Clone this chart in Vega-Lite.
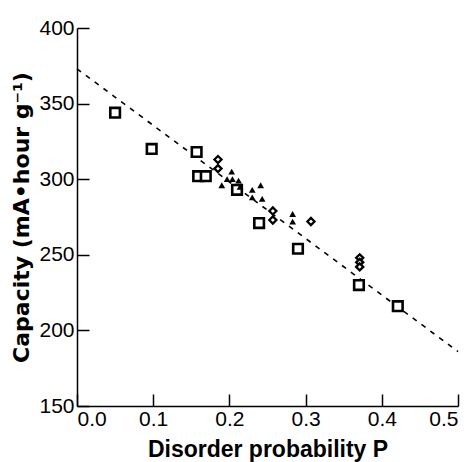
{
  "$schema": "https://vega.github.io/schema/vega-lite/v6.json",
  "width": 381,
  "height": 378,
  "autosize": {"type": "none"},
  "padding": {"left": 77, "top": 28, "right": 17, "bottom": 56},
  "background": "white",
  "config": {
    "view": {"stroke": null},
    "font": "Liberation Sans",
    "axis": {
      "domainColor": "black",
      "domainWidth": 1.5,
      "tickColor": "black",
      "tickWidth": 1.5,
      "grid": false,
      "labelColor": "black",
      "labelFont": "Liberation Sans",
      "labelFontSize": 21,
      "titleFont": "Liberation Sans",
      "titleFontSize": 23,
      "titleFontWeight": "bold",
      "titleColor": "black"
    }
  },
  "datasets": {
    "pts": [
      {"p": 0.05, "cap": 344, "s": "square"},
      {"p": 0.098, "cap": 320, "s": "square"},
      {"p": 0.157, "cap": 318, "s": "square"},
      {"p": 0.159, "cap": 302, "s": "square"},
      {"p": 0.169, "cap": 302, "s": "square"},
      {"p": 0.21, "cap": 293, "s": "square"},
      {"p": 0.239, "cap": 271, "s": "square"},
      {"p": 0.29, "cap": 254, "s": "square"},
      {"p": 0.37, "cap": 230, "s": "square"},
      {"p": 0.421, "cap": 216, "s": "square"},
      {"p": 0.185, "cap": 313, "s": "diamond"},
      {"p": 0.185, "cap": 307, "s": "diamond"},
      {"p": 0.257, "cap": 279, "s": "diamond"},
      {"p": 0.257, "cap": 273, "s": "diamond"},
      {"p": 0.307, "cap": 272, "s": "diamond"},
      {"p": 0.371, "cap": 248, "s": "diamond"},
      {"p": 0.371, "cap": 245, "s": "diamond"},
      {"p": 0.371, "cap": 242, "s": "diamond"},
      {"p": 0.19, "cap": 296, "s": "triangle"},
      {"p": 0.197, "cap": 300, "s": "triangle"},
      {"p": 0.203, "cap": 305, "s": "triangle"},
      {"p": 0.204, "cap": 300, "s": "triangle"},
      {"p": 0.212, "cap": 299, "s": "triangle"},
      {"p": 0.214, "cap": 295, "s": "triangle"},
      {"p": 0.23, "cap": 293, "s": "triangle"},
      {"p": 0.241, "cap": 296, "s": "triangle"},
      {"p": 0.23, "cap": 288, "s": "triangle"},
      {"p": 0.243, "cap": 287, "s": "triangle"},
      {"p": 0.283, "cap": 277, "s": "triangle"},
      {"p": 0.283, "cap": 272, "s": "triangle"}
    ],
    "fit": [
      {"p": 0.0, "cap": 373},
      {"p": 0.5, "cap": 186}
    ]
  },
  "layer": [
    {
      "data": {"name": "fit"},
      "mark": {"type": "line", "color": "black", "strokeWidth": 1.6, "strokeDash": [5, 6]},
      "encoding": {
        "x": {
          "field": "p", "type": "quantitative",
          "scale": {"domain": [0, 0.5], "nice": false},
          "axis": {
            "title": "Disorder probability P",
            "values": [0, 0.05, 0.1, 0.15, 0.2, 0.25, 0.3, 0.35, 0.4, 0.45, 0.5],
            "labelExpr": "round(datum.value*20) % 2 == 0 ? format(datum.value, '.1f') : ''",
            "tickSize": -12,
            "tickDash": {"condition": {"test": "round(datum.value*20) % 2 == 0", "value": []}, "value": [6, 20]},
            "labelPadding": 14,
            "titlePadding": 9
          }
        },
        "y": {
          "field": "cap", "type": "quantitative",
          "scale": {"domain": [150, 400], "nice": false, "zero": false},
          "axis": {
            "title": "Capacity (mA•hour g⁻¹)",
            "titleFont": "DejaVu Sans",
            "titleFontSize": 22,
            "values": [150, 175, 200, 225, 250, 275, 300, 325, 350, 375, 400],
            "labelExpr": "datum.value % 50 == 0 ? datum.label : ''",
            "tickSize": -12,
            "tickDash": {"condition": {"test": "datum.value % 50 == 0", "value": []}, "value": [6, 20]},
            "labelPadding": 15,
            "titlePadding": 5
          }
        }
      }
    },
    {
      "data": {"name": "pts"},
      "transform": [{"filter": "datum.s == 'square'"}],
      "mark": {"type": "point", "shape": "square", "filled": false, "stroke": "black", "strokeWidth": 2.6, "fill": "white", "fillOpacity": 1, "opacity": 1, "size": 92},
      "encoding": {
        "x": {"field": "p", "type": "quantitative"},
        "y": {"field": "cap", "type": "quantitative"}
      }
    },
    {
      "data": {"name": "pts"},
      "transform": [{"filter": "datum.s == 'diamond'"}],
      "mark": {"type": "point", "shape": "diamond", "filled": false, "stroke": "black", "strokeWidth": 2.3, "fill": "white", "fillOpacity": 1, "opacity": 1, "size": 50},
      "encoding": {
        "x": {"field": "p", "type": "quantitative"},
        "y": {"field": "cap", "type": "quantitative"}
      }
    },
    {
      "data": {"name": "pts"},
      "transform": [{"filter": "datum.s == 'triangle'"}],
      "mark": {"type": "point", "shape": "triangle-up", "filled": true, "color": "black", "opacity": 1, "size": 45},
      "encoding": {
        "x": {"field": "p", "type": "quantitative"},
        "y": {"field": "cap", "type": "quantitative"}
      }
    }
  ]
}
